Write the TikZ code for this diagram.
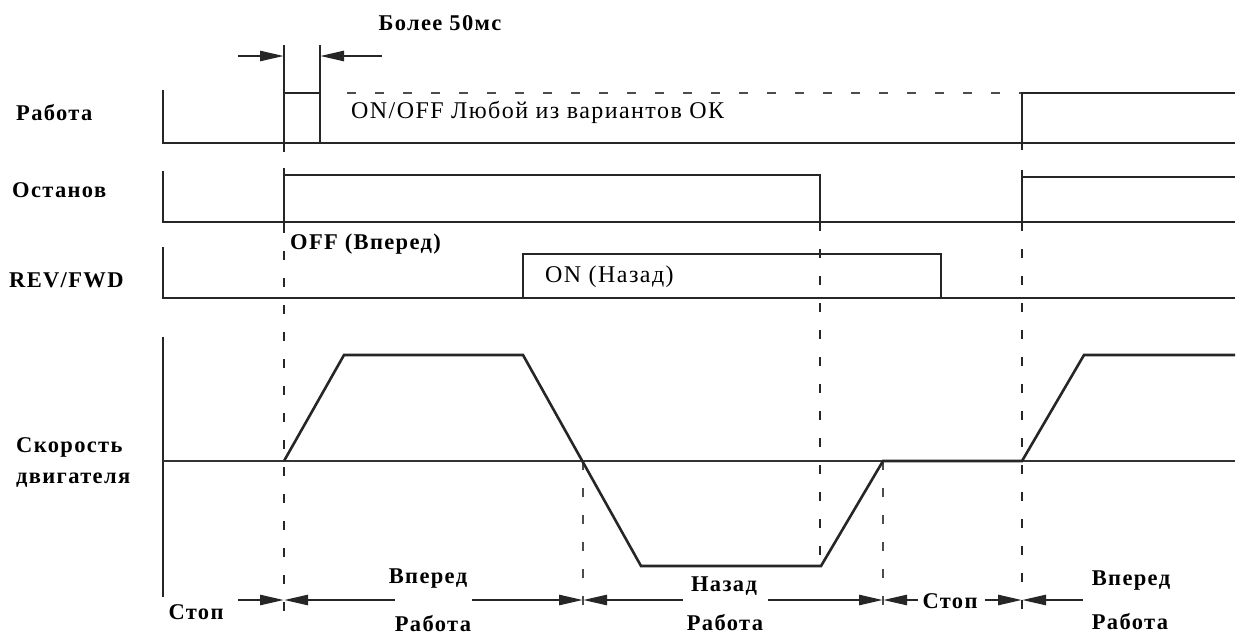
\documentclass[tikz,border=0pt]{standalone}
\usepackage{fontspec}
\setmainfont{Liberation Serif}[LetterSpace=6]
\usetikzlibrary{arrows.meta}

\tikzset{
  sig/.style={line width=2.6pt, black!85},
  zero/.style={line width=1.2pt, black!80},
  guide/.style={line width=2.6pt, black!85, dash pattern=on 9pt off 18pt},
  thinguide/.style={line width=1.5pt, black!70, dash pattern=on 9pt off 18pt},
  dimarrow/.style={line width=2.6pt, black!85, -{Triangle[length=24pt,width=10pt]}},
  lbl/.style={font=\fontsize{22.5}{26}\selectfont\bfseries, inner sep=0pt},
  txt/.style={font=\fontsize{24}{28}\selectfont, inner sep=0pt},
}

\begin{document}
\begin{tikzpicture}[x=1pt, y=-1pt]
\useasboundingbox (0,0) rectangle (1242,635);

% signal names
\node[lbl, anchor=west] (nRun)  at (16,113) {Работа};
\node[lbl, anchor=west] (nStop) at (12,190) {Останов};
\node[lbl, anchor=west] (nDir)  at (9,280) {REV/FWD};
\node[lbl, anchor=west] (nSpd)  at (16,447) {Скорость};
\node[lbl, anchor=west] (nSpd2) at (16,480) {двигателя};

% guide lines
\draw[guide] (284,143) -- (284,620);
\draw[guide] (820,222) -- (820,566);
\draw[guide] (1022,222) -- (1022,620);
\draw[thinguide] (583,461) -- (583,612);
\draw[thinguide] (883,461) -- (883,612);

% run signal
\draw[sig] (163,90) -- (163,143) -- (1235,143);
\draw[sig] (284,45) -- (284,150);
\draw[sig] (320,45) -- (320,143);
\draw[sig] (284,93) -- (320,93);
\draw[line width=2pt, black!70, dash pattern=on 9pt off 19pt] (347,93) -- (1022,93);
\draw[sig] (1022,150) -- (1022,93) -- (1235,93);
\node[txt, anchor=west] (anyOk) at (351,112) {ON/OFF Любой из вариантов ОК};

% min pulse width
\coordinate (w1) at (284,56);
\coordinate (w2) at (320,56);
\draw[dimarrow] (238,56) -- (w1);
\draw[dimarrow] (382,56) -- (w2);
\node[lbl] (minW) at (440,23) {Более 50мс};

% stop signal
\draw[sig] (163,171) -- (163,222) -- (1235,222);
\draw[sig] (284,168) -- (284,230);
\draw[sig] (284,175) -- (820,175) -- (820,222);
\draw[sig] (1022,170) -- (1022,230);
\draw[sig] (1022,177) -- (1235,177);

% direction signal
\draw[sig] (163,247) -- (163,298) -- (1235,298);
\draw[sig] (523,298) -- (523,254) -- (941,254) -- (941,298);
\node[lbl, anchor=west] (offFwd) at (290,244) {OFF (Вперед)};
\node[txt, anchor=west] (onRev) at (545,277) {ON (Назад)};

% motor speed
\draw[sig] (163,337) -- (163,597);
\draw[zero] (163,461) -- (1235,461);
\draw[sig] (284,461) -- (344,355) -- (523,355) -- (641,566) -- (821,566)
  -- (883,461) -- (1022,461) -- (1084,355) -- (1235,355);

% intervals
\coordinate (b1) at (284,600);
\coordinate (b2) at (583,600);
\coordinate (b3) at (883,600);
\coordinate (b4) at (1022,600);
\draw[dimarrow] (238,600) -- (b1);
\draw[dimarrow] (395,600) -- (b1);
\draw[dimarrow] (472,600) -- (b2);
\draw[dimarrow] (683,600) -- (b2);
\draw[dimarrow] (768,600) -- (b3);
\draw[dimarrow] (918,600) -- (b3);
\draw[dimarrow] (985,600) -- (b4);
\draw[dimarrow] (1083,600) -- (b4);

\node[lbl] (stop1) at (196,612) {Стоп};
\node[lbl] (fwd1)  at (428,579) {Вперед};
\node[lbl] (run1)  at (433,624) {Работа};
\node[lbl] (rev2)  at (724,586) {Назад};
\node[lbl] (run2)  at (725,623) {Работа};
\node[lbl] (stop3) at (950,601) {Стоп};
\node[lbl] (fwd4)  at (1131,581) {Вперед};
\node[lbl] (run4)  at (1130,622) {Работа};
\end{tikzpicture}
\end{document}
